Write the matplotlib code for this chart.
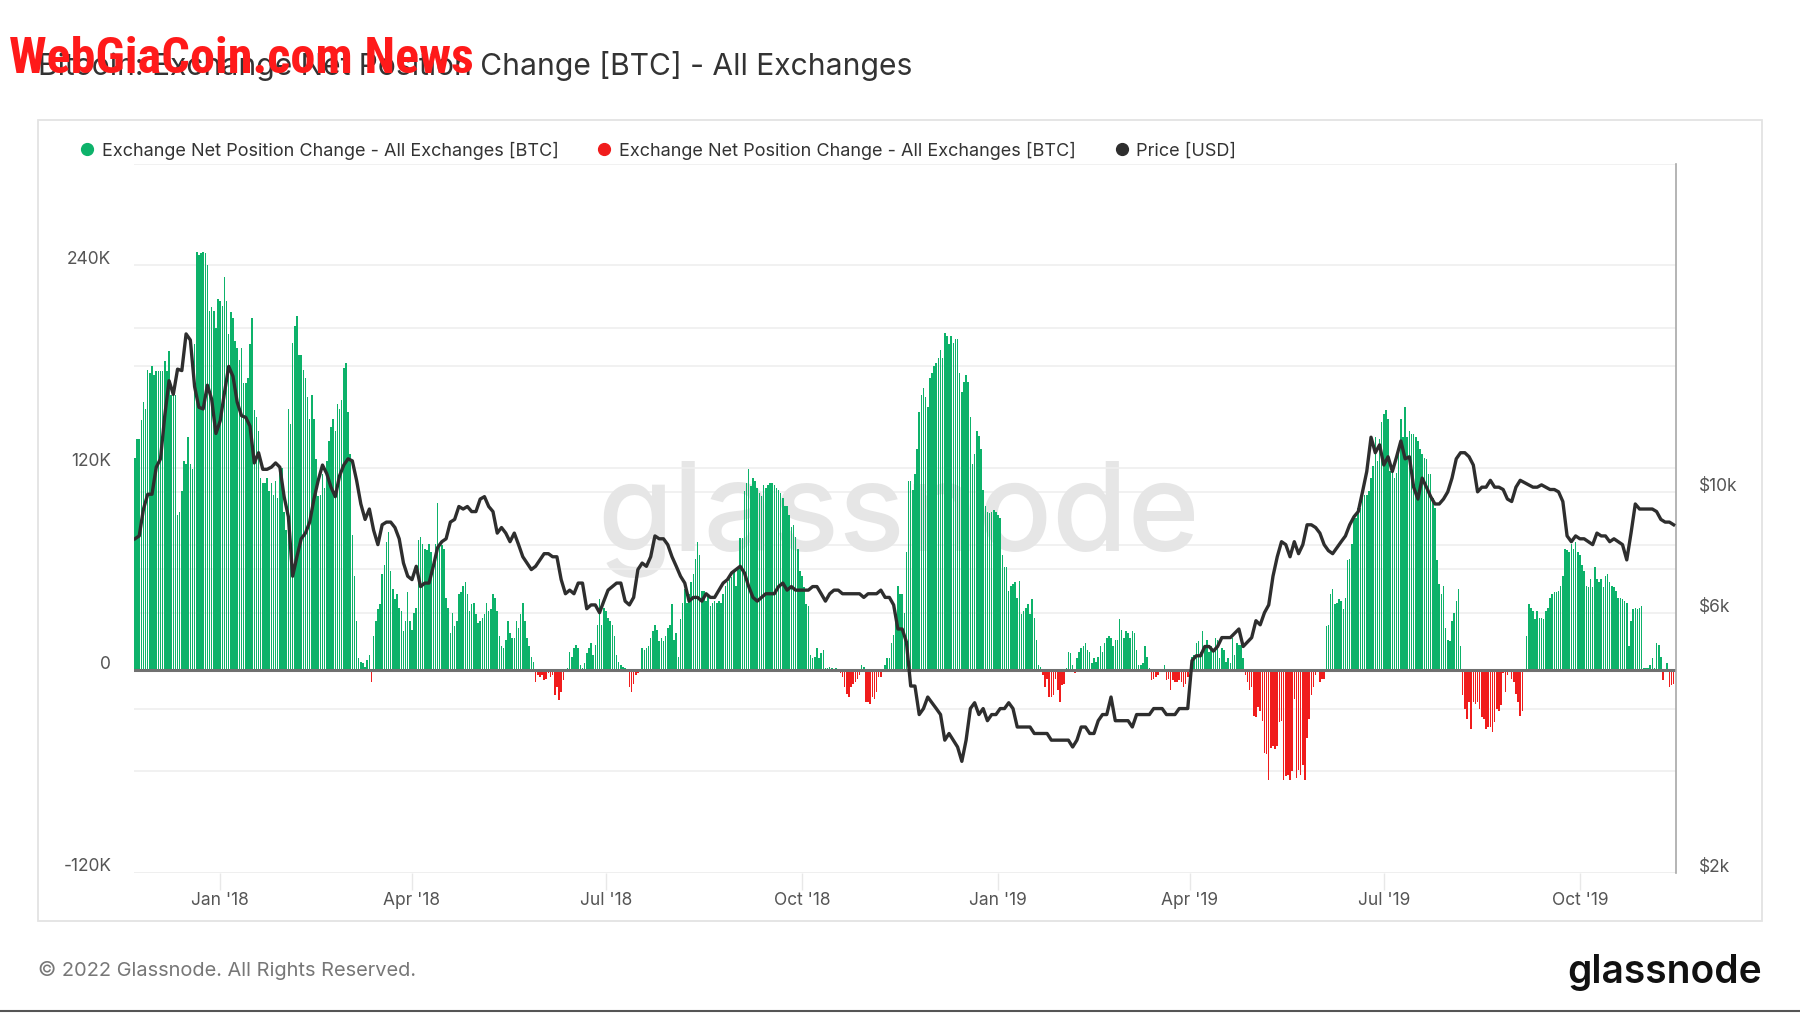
import numpy as np
import pandas as pd
import matplotlib
matplotlib.use('Agg')
import matplotlib.pyplot as plt
import matplotlib.dates as mdates
import matplotlib.transforms as mtransforms
from matplotlib import font_manager as fm
from matplotlib.lines import Line2D
from matplotlib.patches import Rectangle
from matplotlib.ticker import NullLocator, FixedLocator

plt.rcParams['font.family'] = ['Inter', 'DejaVu Sans']

# ---------------- data ----------------
START_DATE = '2017-11-22'

# daily exchange net position change, thousands of BTC (Nov 22 2017 .. Nov 14 2019)
netflow_k = [
    # Nov 22 - Dec 31 2017
    126,137,137,148,159,155,178,176,180,175,177,177,177,177,183,177,189,163,164,163,
    92,94,106,124,122,138,122,119,193,248,246,247,248,247,240,213,215,213,203,220,
    # Jan 1 - Apr 1 2018
    219,216,233,219,199,212,209,195,191,184,191,170,170,173,193,209,154,150,142,114,
    111,111,114,106,111,104,112,102,118,120,94,83,155,146,194,204,210,187,187,178,
    173,162,149,163,149,125,103,104,116,108,124,136,144,149,142,158,155,160,179,182,
    153,128,80,56,29,7,5,4,2,6,9,-7,20,29,36,39,57,62,76,82,
    59,48,42,45,37,35,23,29,46,29,24,
    # Apr 2 - May 28 2018
    34,37,77,79,75,72,71,75,70,63,75,99,74,74,72,
    43,37,22,34,26,29,45,46,50,52,45,35,39,40,33,28,29,31,33,40,
    35,36,45,43,35,20,14,13,18,29,22,19,19,29,25,33,40,29,19,14,8,5,
    # May 29 - Jul 18 2018
    -7,-3,-4,-3,-6,-5,-2,-4,-3,-15,-10,-18,-13,-6,-1,
    1,11,8,13,15,13,3,1,4,10,13,16,9,15,
    27,42,27,37,35,31,29,27,20,9,5,3,2,1,
    -1,-10,-13,-8,-3,-2,-1,
    # Jul 19 - Sep 3 2018
    13,12,13,14,19,23,27,24,17,19,17,20,25,27,39,18,22,8,30,40,
    48,40,45,52,57,66,76,68,47,47,41,44,38,40,41,40,41,40,45,50,
    52,56,55,58,50,60,78,
    # Sep 4 - Nov 29 2018
    78,106,111,119,109,114,112,108,105,103,110,108,110,111,111,110,108,107,105,102,
    97,97,92,85,86,79,72,59,56,49,39,38,
    9,7,8,13,7,10,12,1,1,2,1,0,1,
    -1,-2,-4,-10,-14,-16,-10,-8,-7,-5,-3,3,2,-19,-19,-20,-16,-17,-13,-4,-4,
    0,3,
    # Nov 30 2018 - Feb 10 2019
    7,7,16,21,31,50,45,45,34,70,112,112,107,116,131,153,163,167,162,156,
    173,176,180,182,185,190,185,200,198,193,198,194,196,196,176,165,171,175,171,150,
    122,128,142,139,131,107,97,94,93,94,95,94,92,90,68,61,61,47,50,51,
    52,43,53,33,35,37,39,33,42,31,18,3,2,
    # Feb 2019 - May 2019
    -3,-10,-5,-16,-16,-15,-5,-12,-19,-9,-8,1,11,10,3,-2,7,11,13,14,16,12,11,4,7,5,8,
    14,11,16,19,20,19,14,18,18,30,24,19,23,22,19,23,22,12,3,3,4,14,8,1,
    -6,-5,-4,-3,-1,0,3,
    -6,-5,-12,-6,-7,-7,-6,-7,-10,-8,-4,-1,
    8,9,16,17,11,23,14,18,11,14,11,19,18,7,13,12,5,7,4,19,9,16,15,15,7,
    -3,-7,-12,-10,-27,-28,-22,-24,-30,-49,-50,-65,-46,-45,-47,-45,-31,-30,-65,-63,
    -62,-65,-60,-17,-64,-59,
    -62,-56,-65,-40,-29,-15,-10,-3,0,-7,-5,-5,
    # Jun 2019 - Aug 2019
    26,27,45,48,39,40,42,41,36,43,65,66,75,91,90,96,96,102,104,104,
    106,114,121,138,124,137,147,152,154,149,118,120,114,117,130,149,138,156,138,142,
    140,140,138,136,131,128,126,125,116,116,102,96,65,51,45,50,25,18,17,29,
    34,41,48,14,
    -15,-23,-29,-19,-35,-19,-20,-19,-23,-28,-29,-35,-34,-34,-37,-31,-23,-24,-21,-2,
    -13,-3,-1,-5,-7,-14,-19,-27,-24,
    0,
    # Sep 2019 - Nov 2019
    20,39,37,35,30,35,31,31,30,35,37,43,45,46,46,47,50,56,72,71,
    70,75,72,76,70,68,62,59,50,49,54,49,61,54,52,54,49,56,57,52,
    50,49,47,43,43,42,41,
    40,14,29,36,37,36,37,38,1,1,1,3,7,1,16,15,8,-6,0,4,-10,-9,-8,
]

# BTC price every 2 days, thousands of USD
price_k = [
    8.2,8.3,9.3,9.9,9.9,11.1,11.5,13.8,16.0,15.1,16.8,16.7,19.5,19.0,15.6,14.3,14.2,15.7,14.8,12.8,
    13.5,15.2,17.0,16.3,14.6,13.8,13.7,13.2,11.3,11.8,11.0,11.0,11.1,11.3,11.1,9.8,9.0,7.0,7.6,8.2,
    8.4,8.8,9.7,10.5,11.2,10.8,10.2,9.8,10.7,11.2,11.5,11.4,10.5,9.5,8.9,9.3,8.5,8.0,8.7,8.8,
    8.8,8.6,8.2,7.4,7.0,6.9,7.3,6.7,6.8,6.8,7.3,7.9,8.1,8.2,8.8,8.9,9.4,9.3,9.4,9.2,
    9.2,9.7,9.8,9.4,9.2,8.4,8.6,8.4,8.1,8.4,8.0,7.6,7.4,7.2,7.3,7.5,
    7.7,7.7,7.6,7.6,6.9,6.5,6.6,6.5,6.8,6.8,
    6.1,6.2,6.2,6.0,6.3,6.6,6.7,6.8,6.8,6.3,
    6.2,6.4,7.2,7.4,7.3,7.6,8.3,8.2,8.2,8.0,
    7.6,7.3,7.0,6.8,6.3,6.4,6.4,6.3,6.5,6.4,
    6.4,6.6,6.8,6.9,7.1,7.2,7.3,7.1,6.7,6.4,
    6.3,6.4,6.5,6.5,6.5,6.7,6.8,6.6,6.7,6.6,
    6.6,6.6,6.6,6.7,6.7,6.5,6.3,6.5,6.6,6.6,
    6.5,6.5,6.5,6.5,6.5,6.4,6.5,6.5,6.5,6.6,
    6.4,6.4,6.2,5.6,5.6,5.3,4.4,4.4,3.9,4.0,
    4.2,4.1,4.0,3.9,3.5,3.6,3.5,3.4,3.2,3.5,
    4.0,4.1,3.9,4.0,3.8,3.9,3.9,4.0,4.0,4.1,
    4.0,3.7,3.7,3.7,3.7,3.6,3.6,3.6,3.6,3.5,
    3.5,3.5,3.5,3.5,3.4,3.5,3.7,3.7,3.6,3.6,
    3.8,
    3.9,3.9,4.2,3.8,3.8,3.8,3.8,3.7,3.9,3.9,
    3.9,3.9,4.0,4.0,4.0,3.9,3.9,3.9,4.0,4.0,
    4.0,4.9,5.0,5.0,5.2,5.2,5.1,5.2,5.4,5.4,
    5.4,5.5,5.6,5.2,5.3,5.4,5.8,5.7,6.0,6.2,
    7.0,7.6,8.1,8.0,7.6,8.1,7.7,8.0,8.7,8.7,
    8.6,8.4,8.0,7.8,7.7,7.9,8.1,8.3,8.7,9.0,
    9.2,10.0,10.9,12.6,11.8,12.2,11.2,11.6,10.9,11.6,
    12.4,11.5,11.6,10.2,9.7,10.6,10.2,9.8,9.5,9.5,
    9.7,10.0,10.6,11.5,11.8,11.8,11.6,11.2,10.0,10.2,
    10.2,10.5,10.2,10.2,10.1,9.7,9.6,10.2,10.5,10.4,
    10.3,10.2,10.2,10.3,10.2,10.1,10.1,10.0,9.6,8.3,
    8.1,8.3,8.2,8.2,8.1,8.0,8.4,8.3,8.3,8.1,
    8.2,8.1,8.0,7.5,8.4,9.5,9.3,9.3,9.3,9.3,
    9.2,8.9,8.8,8.8,8.7,
]

left_ticks_k = [-120, 0, 120, 240]
left_labels = ['-120K', '0', '120K', '240K']
left_grid_k = [-120, -60, 0, 60, 120, 180, 240, 300]
right_ticks = [2000, 6000, 10000]
right_labels = ['$2k', '$6k', '$10k']
right_grid = [2000, 4000, 6000, 8000, 10000, 20000]
month_ticks = ['2018-01-01', '2018-04-01', '2018-07-01', '2018-10-01',
               '2019-01-01', '2019-04-01', '2019-07-01', '2019-10-01']
month_labels = ["Jan '18", "Apr '18", "Jul '18", "Oct '18",
                "Jan '19", "Apr '19", "Jul '19", "Oct '19"]
series_labels = ['Exchange Net Position Change - All Exchanges [BTC]',
                 'Exchange Net Position Change - All Exchanges [BTC]',
                 'Price [USD]']

GREEN = '#0db26a'
RED = '#f01c1c'
DARK = '#2e2e2e'

# ---------------- figure ----------------
W, H = 1800, 1013
fig = plt.figure(figsize=(W / 100, H / 100), dpi=100)
fig.patch.set_facecolor('white')


def rect(l, t, r, b):
    return [l / W, 1 - b / H, (r - l) / W, (b - t) / H]


PL, PT, PR, PB = 134.3, 164, 1676, 872.5

bar_dates = pd.date_range(START_DATE, periods=len(netflow_k), freq='D')
price_dates = pd.date_range(START_DATE, periods=len(price_k), freq='2D')
x0 = mdates.date2num(pd.Timestamp(START_DATE))
xlim = (x0 - 0.3, x0 + 723.1)

# background axes (right-axis grid + watermark)
ax_bg = fig.add_axes(rect(PL, PT, PR, PB), zorder=0)
ax_bg.set_yscale('log')
ax_bg.set_ylim(2000, 40000)
ax_bg.set_xlim(*xlim)
ax_bg.yaxis.set_major_locator(FixedLocator(right_grid))
ax_bg.yaxis.set_minor_locator(NullLocator())
ax_bg.grid(axis='y', color='#efefef', lw=1.2)
ax_bg.set_xticks([])
ax_bg.tick_params(axis='y', length=0, labelleft=False)
for s in ax_bg.spines.values():
    s.set_visible(False)
ax_bg.text(0.496, 0.454, 'glassnode', transform=ax_bg.transAxes, fontsize=88,
           color='#e6e6e6', ha='center', va='baseline', weight='medium')

# main axes (bars)
ax = fig.add_axes(rect(PL, PT, PR, PB), zorder=1)
ax.patch.set_visible(False)
vals = np.array(netflow_k, dtype=float) * 1000
colors = [GREEN if v >= 0 else RED for v in vals]
ax.bar(bar_dates, vals, width=0.72, color=colors, linewidth=0, zorder=2)
ax.axhline(0, color='#707070', lw=2.2, zorder=3)
ax.set_ylim(-120000, 300000)
ax.set_xlim(*xlim)
ax.set_yticks([v * 1000 for v in left_grid_k])
ax.grid(axis='y', color='#efefef', lw=1.2)
ax.set_axisbelow(True)
ax.tick_params(axis='y', length=0, labelleft=False)
ax.set_xticks([mdates.date2num(pd.Timestamp(d)) for d in month_ticks])
ax.set_xticklabels(month_labels, fontsize=12.5, color='#555555')
ax.tick_params(axis='x', length=12, width=1, color='#e8e8e8', pad=2)
for s in ax.spines.values():
    s.set_visible(False)

tl = mtransforms.blended_transform_factory(ax.transAxes, ax.transData) + \
    mtransforms.ScaledTranslation(-0.23, 0.06, fig.dpi_scale_trans)
for v, lab in zip(left_ticks_k, left_labels):
    ax.text(0, v * 1000, lab, transform=tl, ha='right', va='center',
            fontsize=12.5, color='#555555')

# price axes
ax2 = ax.twinx()
ax2.plot(price_dates, np.array(price_k) * 1000, color=DARK, lw=2.4,
         solid_joinstyle='round', zorder=4)
ax2.set_yscale('log')
ax2.set_ylim(2000, 40000)
ax2.set_xlim(*xlim)
ax2.yaxis.set_major_locator(NullLocator())
ax2.yaxis.set_minor_locator(NullLocator())
ax2.tick_params(axis='y', length=0, labelright=False)
for k in ['top', 'left', 'bottom']:
    ax2.spines[k].set_visible(False)
ax2.spines['right'].set_color('#a8a8a8')
ax2.spines['right'].set_linewidth(1.2)
tr = mtransforms.blended_transform_factory(ax2.transAxes, ax2.transData) + \
    mtransforms.ScaledTranslation(0.23, 0.05, fig.dpi_scale_trans)
for v, lab in zip(right_ticks, right_labels):
    ax2.text(1, v, lab, transform=tr, ha='left', va='center',
             fontsize=12.5, color='#555555')

# panel border
fig.add_artist(Rectangle((38 / W, 1 - 921 / H), 1724 / W, 801 / H,
                         transform=fig.transFigure, fill=False,
                         ec='#e3e3e3', lw=1.3))
fig.add_artist(Line2D([0, 1], [1 - 1011 / H] * 2, transform=fig.transFigure,
                      color='#555555', lw=1.5))

# legend
handles = [Line2D([], [], marker='o', ls='', color=c, markersize=8.5)
           for c in [GREEN, RED, DARK]]
fig.legend(handles, series_labels, loc='center left',
           bbox_to_anchor=(79 / W, 1 - 150.5 / H), ncol=3, frameon=False,
           fontsize=13, handlelength=0.9, handletextpad=0.35,
           columnspacing=2.1, borderpad=0, borderaxespad=0,
           labelcolor='#333333')

# title and texts
fig.text(38 / W, 1 - 66 / H,
         'Bitcoin: Exchange Net Position Change [BTC] - All Exchanges',
         fontsize=21.6, color='#333333', ha='left', va='center')
fig.text(38 / W, 1 - 970 / H, '\u00a9 2022 Glassnode. All Rights Reserved.',
         fontsize=14.4, color='#777777', ha='left', va='center')
fig.text(1762 / W, 1 - 983 / H, 'glassnode', fontsize=28, weight='semibold',
         color='#111111', ha='right', va='baseline')


# red overlay banner text: pick a condensed bold face if one is installed
def pick_condensed_bold():
    best = None
    for f in fm.fontManager.ttflist:
        nm = (f.name + ' ' + f.fname).lower()
        cond = ('narrow' in nm or 'condensed' in nm or
                str(f.stretch).lower() in ('condensed', 'semi-condensed',
                                           'extra-condensed', 'ultra-condensed'))
        if not cond:
            continue
        w = f.weight
        if not isinstance(w, (int, float)):
            w = {'bold': 700, 'heavy': 800, 'black': 900, 'semibold': 600,
                 'demibold': 600}.get(str(w).lower(), 400)
        score = (w >= 600, 'liberation' in nm, 'roboto' in nm, w)
        if best is None or score > best[0]:
            best = (score, f.fname)
    return best[1] if best else None


fpath = pick_condensed_bold()
if fpath:
    fprop = fm.FontProperties(fname=fpath, size=35)
else:
    fprop = fm.FontProperties(family='DejaVu Sans', weight='bold', size=35)
banner = fig.text(9 / W, 1 - 59.5 / H, 'WebGiaCoin.com News', fontproperties=fprop,
                  color='#ff1a1a', ha='left', va='center')
renderer = fig.canvas.get_renderer()
bw = banner.get_window_extent(renderer).width
banner.set_fontsize(35 * 464.0 / bw)

fig.savefig('out.png', dpi=100, facecolor='white')
